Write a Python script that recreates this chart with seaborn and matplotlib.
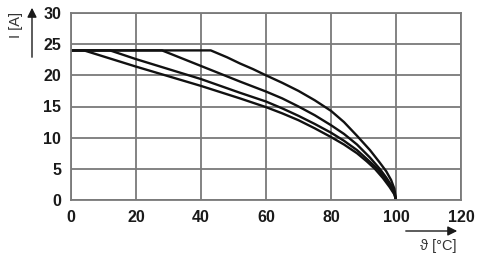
import matplotlib
matplotlib.use("Agg")
import matplotlib.pyplot as plt
import seaborn as sns
import pandas as pd

# Derating curves: temperature (°C) vs current (A)
c1_t = [0, 4, 20, 40, 52, 60, 65, 70, 75, 80, 84, 88, 91, 93.5, 96, 98, 99.5, 100]
c1_i = [24, 24, 21.4, 18.3, 16.3, 14.9, 13.9, 12.8, 11.5, 10.1, 8.9, 7.5, 6.2, 5.0, 3.5, 2.1, 0.9, 0]
c2_t = [0, 12, 20, 40, 52, 60, 65, 70, 75, 80, 84, 88, 91, 94.3, 96.5, 98.3, 99.5, 100]
c2_i = [24, 24, 22.6, 19.4, 17.2, 15.8, 14.7, 13.5, 12.2, 10.8, 9.5, 8.0, 6.6, 5.0, 3.6, 2.2, 1.0, 0]
c3_t = [0, 28, 40, 52, 60, 65, 70, 75, 80, 84, 88, 92, 95, 97, 98.5, 99.5, 100]
c3_i = [24, 24, 21.5, 19.0, 17.4, 16.3, 15.0, 13.6, 12.0, 10.6, 8.9, 6.8, 5.0, 3.6, 2.4, 1.3, 0]
c4_t = [0, 43, 48, 52, 56, 60, 65, 70, 75, 80, 84, 88, 92, 95, 97, 98.5, 99.5, 100]
c4_i = [24, 24, 22.9, 21.9, 21.0, 20.0, 18.8, 17.5, 16.0, 14.3, 12.5, 10.3, 8.0, 6.0, 4.6, 3.2, 1.8, 0]

x_ticks = [0, 20, 40, 60, 80, 100, 120]
y_ticks = [0, 5, 10, 15, 20, 25, 30]
x_label = "ϑ [°C]"
y_label = "I [A]"

frames = []
for name, t, i in [("c1", c1_t, c1_i), ("c2", c2_t, c2_i),
                   ("c3", c3_t, c3_i), ("c4", c4_t, c4_i)]:
    frames.append(pd.DataFrame({"T": t, "I": i, "curve": name}))
df = pd.concat(frames, ignore_index=True)

sns.set_style("white")
plt.rcParams["font.family"] = ["Liberation Sans", "DejaVu Sans"]

fig = plt.figure(figsize=(4.8, 2.62), dpi=100)
ax = fig.add_axes([71/480, 1-200/262, 390/480, 187/262])

sns.lineplot(data=df, x="T", y="I", hue="curve", palette=["#111111"]*4,
             linewidth=1.7, legend=False, ax=ax, sort=False, estimator=None)

ax.set_xlim(0, 120)
ax.set_ylim(0, 30)
ax.set_xticks(x_ticks)
ax.set_yticks(y_ticks)
ax.set_xticklabels([str(v) for v in x_ticks], fontsize=11.5, fontweight="bold", color="#1a1a1a")
ax.set_yticklabels([str(v) for v in y_ticks], fontsize=11.5, fontweight="bold", color="#1a1a1a")
ax.tick_params(axis="both", length=0)
ax.tick_params(axis="y", pad=7)
ax.tick_params(axis="x", pad=7)
ax.grid(True, color="#7a7a7a", linewidth=1.3)
ax.set_axisbelow(True)
for s in ax.spines.values():
    s.set_color("#7a7a7a")
    s.set_linewidth(1.3)
ax.set_xlabel("")
ax.set_ylabel("")

# axis arrows and labels
fig.add_artist(matplotlib.patches.FancyArrowPatch(
    (32/480, 1-60/262), (32/480, 1-5/262), transform=fig.transFigure,
    arrowstyle="-|>", mutation_scale=14, color="#1a1a1a", lw=1))
fig.text(16/480, 1-25/262, y_label, rotation=90, ha="center", va="center",
         fontsize=10.5, color="#333333")
fig.add_artist(matplotlib.patches.FancyArrowPatch(
    (403/480, 1-231/262), (460/480, 1-231/262), transform=fig.transFigure,
    arrowstyle="-|>", mutation_scale=14, color="#1a1a1a", lw=1))
fig.text(438/480, 1-246/262, x_label, ha="center", va="center",
         fontsize=10.5, color="#333333")

fig.savefig("out.png", dpi=100)
